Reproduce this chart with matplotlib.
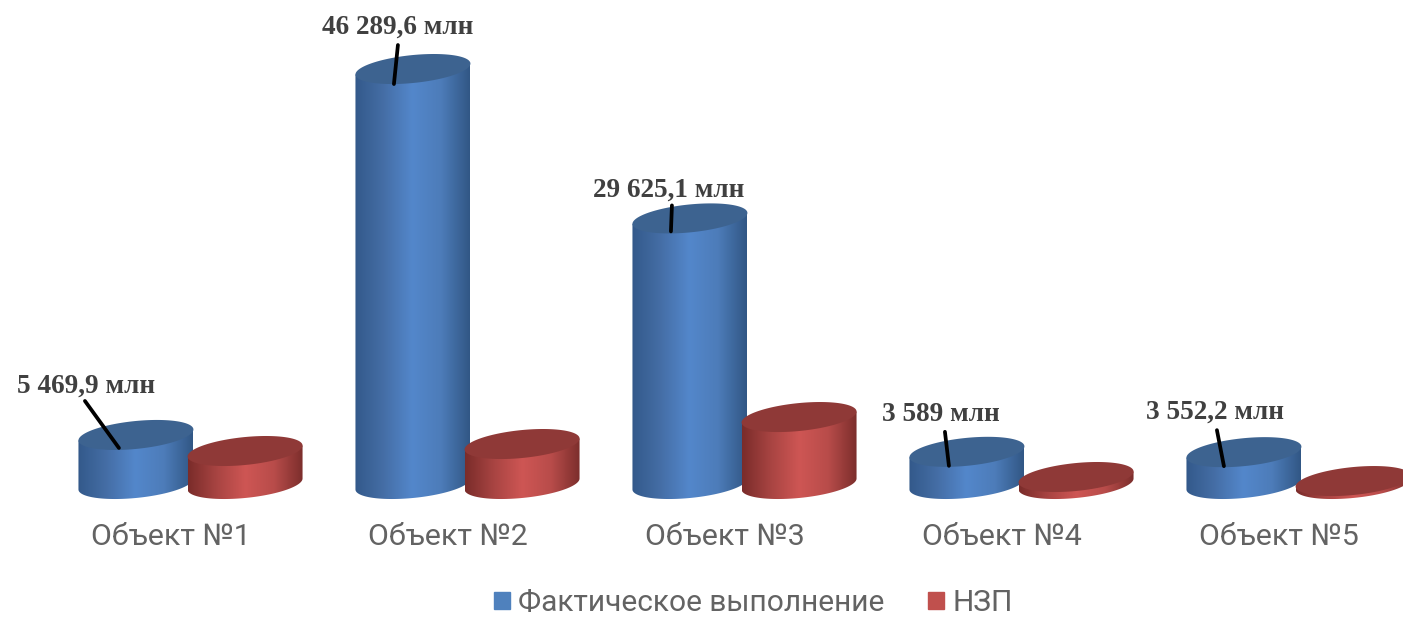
import numpy as np
import matplotlib
matplotlib.use('Agg')
import matplotlib.pyplot as plt
from matplotlib.colors import LinearSegmentedColormap
from matplotlib.patches import Patch, Polygon

# Дані
categories = ['Объект №1', 'Объект №2', 'Объект №3', 'Объект №4', 'Объект №5']
fact = [5469.9, 46289.6, 29625.1, 3589, 3552.2]
nzp = [3680, 4460, 7470, 780, 330]
fact_labels = ['5 469,9 млн', '46 289,6 млн', '29 625,1 млн', '3 589 млн', '3 552,2 млн']

# Оформлення
bar_half = 0.2075
offset = 0.197
cap_h = 1560
cap_tilt = 610
text_grey = '#636363'
label_grey = '#404040'
blue_stops = ['#33598a', '#456ea6', '#5387cb', '#4d7cb9', '#315785']
red_stops = ['#7a2c2a', '#a84442', '#ce5654', '#b84c4a', '#7c2e2c']
blue_top = '#3d6390'
red_top = '#8f3937'

# Масштаб картинки
px_per_cat = 277
px_per_val = 0.008965

# зсуви підписів і виносок, пікселі від верху циліндра
label_dx = [-50, -15, -21, -26, -29]
label_dy = [49, 42, 28, 37, 40]
line_start = [(-51, 34), (-15, 24), (-18, 13), (-22, 20), (-27, 22)]
line_end = [(-17, -13), (-19, -15), (-19, -13), (-18, -14), (-20, -14)]

fig = plt.figure(figsize=(14.03, 6.17), dpi=100)
ax = fig.add_axes([0, 0, 1, 1])
t = np.linspace(0, 2 * np.pi, 200)


def cylinder(cx, value, stops, top_color, z):
    # бічна поверхня: нижня дуга плюс бокові сторони
    low = np.linspace(np.pi, 2 * np.pi, 100)
    xs = cx + bar_half * np.cos(low)
    ys = cap_h * np.sin(low) + cap_tilt * np.cos(low)
    verts = np.vstack([[cx - bar_half, value - cap_tilt],
                       np.column_stack([xs, ys]),
                       [cx + bar_half, value + cap_tilt]])
    body = Polygon(verts, closed=True, transform=ax.transData, fc='none', ec='none')
    ax.add_patch(body)
    cmap = LinearSegmentedColormap.from_list('side', stops)
    grad = np.linspace(0, 1, 256).reshape(1, -1)
    im = ax.imshow(grad, cmap=cmap, aspect='auto', zorder=z, interpolation='bilinear',
                   extent=[cx - bar_half, cx + bar_half, -cap_h * 1.2, value + cap_h])
    im.set_clip_path(body)
    # верхня кришка
    ax.fill(cx + bar_half * np.cos(t), value + cap_h * np.sin(t) + cap_tilt * np.cos(t),
            color=top_color, lw=0, zorder=z + 0.1)


x = np.arange(len(categories))
px = 72 / fig.dpi
for i in x:
    cylinder(i - offset, fact[i], blue_stops, blue_top, 2 + i * 0.01)
    cylinder(i + offset, nzp[i], red_stops, red_top, 3 + i * 0.01)

    # виноска і підпис значення
    sx, sy = line_start[i]
    ex, ey = line_end[i]
    ax.plot([i - offset + sx / px_per_cat, i - offset + ex / px_per_cat],
            [fact[i] + sy / px_per_val, fact[i] + ey / px_per_val],
            color='black', lw=2.7, solid_capstyle='round', zorder=6)
    ax.annotate(fact_labels[i], xy=(i - offset, fact[i]), xycoords='data',
                xytext=(label_dx[i] * px, label_dy[i] * px), textcoords='offset points',
                ha='center', va='center', fontsize=19.6, fontweight='bold',
                family='Liberation Serif', color=label_grey, zorder=7)

ax.set_xlim(-190.5 / px_per_cat, (1403 - 190.5) / px_per_cat)
ax.set_ylim(-133 / px_per_val, 484 / px_per_val)

ax.set_xticks(x - 0.07)
ax.set_xticklabels(categories, fontsize=21.9, family='Roboto', color=text_grey)
ax.tick_params(axis='x', length=0, direction='in', pad=-68)
ax.set_yticks([])
for side in ax.spines.values():
    side.set_visible(False)

handles = [Patch(color='#4f81bd', label='Фактическое выполнение'),
           Patch(color='#c0504d', label='НЗП')]
fig.legend(handles=handles, loc='center', bbox_to_anchor=(0.537, 0.0225), ncol=2,
           frameon=False, handlelength=0.54, handleheight=0.54, handletextpad=0.28,
           columnspacing=1.45, borderpad=0, prop={'family': 'Roboto', 'size': 21.5},
           labelcolor=text_grey)

fig.savefig('out.png', dpi=100)
